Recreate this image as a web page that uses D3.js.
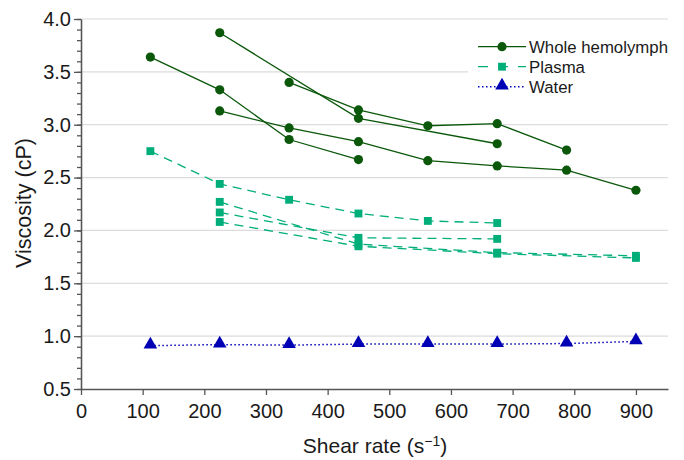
<!DOCTYPE html>
<html lang="en">
<head>
<meta charset="utf-8">
<title>Viscosity vs shear rate</title>
<script src="https://d3js.org/d3.v7.min.js"></script>
<style>
  body { margin: 0; background: #fff; }
  text { font-family: "Liberation Sans", Arial, sans-serif; fill: #1a1a1a; }
</style>
</head>
<body>
<script>
  // data
  var hemoRunA = [[112.5, 3.64], [225, 3.33], [337.5, 2.86], [450, 2.67]];
  var hemoRunB = [[225, 3.87], [450, 3.06], [675, 2.82]];
  var hemoRunC = [[337.5, 3.40], [450, 3.14], [562.5, 2.99], [675, 3.01], [787.5, 2.76]];
  var hemoRunD = [[225, 3.13], [337.5, 2.97], [450, 2.84], [562.5, 2.66], [675, 2.61], [787.5, 2.57], [900, 2.38]];

  var plasmaRunA = [[112.5, 2.75], [225, 2.44], [337.5, 2.29], [450, 2.16], [562.5, 2.09], [675, 2.07]];
  var plasmaRunB = [[225, 2.27], [450, 1.87], [675, 1.79], [900, 1.76]];
  var plasmaRunC = [[225, 2.17], [450, 1.93], [675, 1.92]];
  var plasmaRunD = [[225, 2.08], [450, 1.85], [675, 1.78], [900, 1.74]];

  var waterShear = [112.5, 225, 337.5, 450, 562.5, 675, 787.5, 900];
  var waterVisc = [0.91, 0.92, 0.915, 0.925, 0.925, 0.925, 0.93, 0.95];

  var xTicks = [0, 100, 200, 300, 400, 500, 600, 700, 800, 900];
  var yTicks = [0.5, 1.0, 1.5, 2.0, 2.5, 3.0, 3.5, 4.0];
  var legendLabels = ["Whole hemolymph", "Plasma", "Water"];

  var w = 684, h = 460;
  var margin = {top: 19, right: 16, bottom: 71, left: 81};

  var svg = d3.select("body").append("svg")
    .attr("width", w)
    .attr("height", h);

  var xScale = d3.scaleLinear()
    .domain([0, 952])
    .range([margin.left, w - margin.right]);

  var yScale = d3.scaleLinear()
    .domain([0.5, 4.0])
    .range([h - margin.bottom, margin.top]);

  // gridlines
  svg.append("g")
    .selectAll("line")
    .data(yTicks.slice(1))
    .enter()
    .append("line")
    .attr("x1", xScale(0))
    .attr("x2", xScale(952))
    .attr("y1", d => yScale(d))
    .attr("y2", d => yScale(d))
    .attr("stroke", "#dcdcdc")
    .attr("stroke-width", 1.2);

  // axes
  var xAxis = d3.axisBottom(xScale)
    .tickValues(xTicks)
    .tickSize(6)
    .tickSizeOuter(0)
    .tickFormat(d3.format("d"));

  var yAxis = d3.axisLeft(yScale)
    .tickValues(yTicks)
    .tickSize(7)
    .tickSizeOuter(0)
    .tickFormat(d3.format(".1f"));

  var yMinor = d3.axisLeft(yScale)
    .tickValues(d3.range(5, 41).map(d => d / 10))
    .tickSize(4)
    .tickSizeOuter(0)
    .tickFormat("");

  svg.append("g")
    .attr("transform", `translate(0, ${yScale(0.5)})`)
    .call(xAxis)
    .call(g => g.selectAll("text").attr("dy", "1.0em").style("font-size", "20px"));

  svg.append("g")
    .attr("transform", `translate(${xScale(0)}, 0)`)
    .call(yMinor);

  svg.append("g")
    .attr("transform", `translate(${xScale(0)}, 0)`)
    .call(yAxis)
    .call(g => g.selectAll("text").attr("x", -10).style("font-size", "20px"));

  svg.selectAll(".domain, .tick line")
    .attr("stroke", "#555")
    .attr("stroke-width", 1.3);

  // axis titles
  svg.append("text")
    .attr("x", 375)
    .attr("y", 453)
    .attr("text-anchor", "middle")
    .style("font-size", "21px")
    .text("Shear rate (s")
    .append("tspan").text("\u22121").attr("dy", -7).style("font-size", "14px")
    .select(function () { return this.parentNode; })
    .append("tspan").text(")").attr("dy", 7);

  svg.append("text")
    .attr("transform", "translate(31, 203) rotate(-90)")
    .attr("text-anchor", "middle")
    .style("font-size", "21.5px")
    .text("Viscosity (cP)");

  var line = d3.line()
    .x(d => xScale(d[0]))
    .y(d => yScale(d[1]));

  var hemoColor = "#0b580b", plasmaColor = "#00ae7a", waterColor = "#0000b4";

  // whole hemolymph
  var hemoRuns = [hemoRunA, hemoRunB, hemoRunC, hemoRunD];
  svg.append("g").selectAll("path")
    .data(hemoRuns).enter().append("path")
    .attr("d", line)
    .attr("fill", "none")
    .attr("stroke", hemoColor)
    .attr("stroke-width", 1.3);

  svg.append("g").selectAll("circle")
    .data(hemoRuns.flat()).enter().append("circle")
    .attr("cx", d => xScale(d[0]))
    .attr("cy", d => yScale(d[1]))
    .attr("r", 4.6)
    .attr("fill", hemoColor);

  // plasma
  var plasmaRuns = [plasmaRunA, plasmaRunB, plasmaRunC, plasmaRunD];
  svg.append("g").selectAll("path")
    .data(plasmaRuns).enter().append("path")
    .attr("d", line)
    .attr("fill", "none")
    .attr("stroke", plasmaColor)
    .attr("stroke-width", 1.3)
    .attr("stroke-dasharray", "9,6");

  var sq = d3.symbol().type(d3.symbolSquare).size(62);
  svg.append("g").selectAll("path")
    .data(plasmaRuns.flat()).enter().append("path")
    .attr("d", sq)
    .attr("transform", d => `translate(${xScale(d[0])}, ${yScale(d[1])})`)
    .attr("fill", plasmaColor);

  // water
  var waterPts = waterShear.map((s, i) => [s, waterVisc[i]]);
  svg.append("path")
    .datum(waterPts)
    .attr("d", line)
    .attr("fill", "none")
    .attr("stroke", waterColor)
    .attr("stroke-width", 1.5)
    .attr("stroke-dasharray", "1.5,2.5");

  var tri = d3.symbol().type(d3.symbolTriangle).size(80);
  svg.append("g").selectAll("path")
    .data(waterPts).enter().append("path")
    .attr("d", tri)
    .attr("transform", d => `translate(${xScale(d[0])}, ${yScale(d[1]) - 1})`)
    .attr("fill", waterColor);

  // legend
  var legend = svg.append("g");
  legend.append("rect")
    .attr("x", 468).attr("y", 33)
    .attr("width", 204).attr("height", 66)
    .attr("fill", "#fff");

  var legendStyles = [
    {color: hemoColor, dash: null, mark: d3.symbol().type(d3.symbolCircle).size(66)},
    {color: plasmaColor, dash: "9,6", mark: sq},
    {color: waterColor, dash: "1.5,2.5", mark: tri}
  ];

  var items = legend.selectAll(".item")
    .data(legendLabels).enter().append("g")
    .attr("class", "item")
    .attr("transform", (d, i) => `translate(0, ${46.7 + i * 20})`);

  items.append("line")
    .attr("x1", 478).attr("x2", 526)
    .attr("stroke", (d, i) => legendStyles[i].color)
    .attr("stroke-width", (d, i) => i == 2 ? 1.5 : 1.3)
    .attr("stroke-dasharray", (d, i) => i == 1 ? "10,10" : legendStyles[i].dash);

  items.append("path")
    .attr("d", (d, i) => legendStyles[i].mark())
    .attr("transform", (d, i) => `translate(502, ${i == 2 ? -1 : 0})`)
    .attr("fill", (d, i) => legendStyles[i].color);

  items.append("text")
    .attr("x", 529)
    .attr("dy", "0.36em")
    .style("font-size", "16.8px")
    .text(d => d);
</script>
</body>
</html>
